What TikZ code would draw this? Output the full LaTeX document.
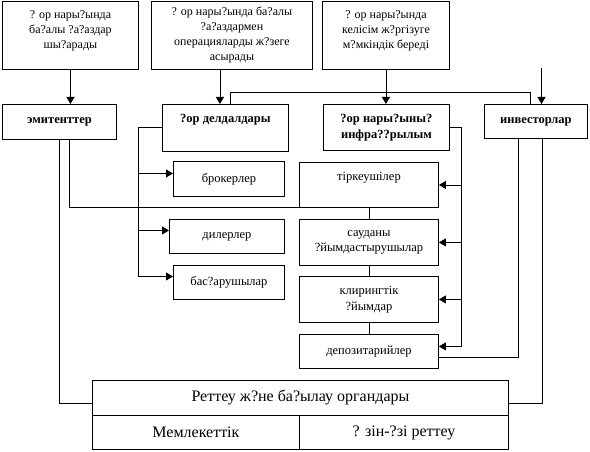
\documentclass[tikz,border=0pt]{standalone}
\usepackage{fontspec}
\setmainfont{Liberation Serif}
\usetikzlibrary{arrows.meta, calc}
\tikzset{box/.style={draw, anchor=north west, inner sep=0pt, align=center, font=\fontsize{12.5}{15.5}\selectfont},
topbox/.style={box, font=\fontsize{12}{15}\selectfont},
hdr/.style={box, font=\fontsize{12.5}{16}\selectfont\bfseries},
regbox/.style={box, font=\fontsize{16}{18}\selectfont},
flow/.style={-{Triangle[length=7pt, width=8pt]}}}

\begin{document}
\begin{tikzpicture}[x=1pt, y=-1pt, line width=0.9pt]
  \useasboundingbox (0,0) rectangle (590,452);
  % top row
  \node[topbox, minimum width=136pt, minimum height=68pt, text height=47pt, text depth=21pt] (issue) at (2,1) {? ор нары?ында\\ ба?алы ?а?аздар\\ шы?арады};
  \node[topbox, minimum width=161pt, minimum height=68pt] (oper) at (151,1) {? ор нары?ында ба?алы\\ ?а?аздармен\\ операцияларды ж?зеге\\ асырады};
  \node[topbox, minimum width=127pt, minimum height=68pt, text height=47pt, text depth=21pt] (deal) at (322,1) {? ор нары?ында\\ келісім ж?ргізуге\\ м?мкіндік береді};
  % participants
  \node[hdr, minimum width=114pt, minimum height=35pt] (emit) at (2,104) {эмитенттер};
  \node[hdr, minimum width=126pt, minimum height=47pt, text height=18pt, text depth=29pt] (dl) at (162,104) {?ор делдалдары};
  \node[hdr, minimum width=126pt, minimum height=46pt] (infra) at (323,104) {?ор нары?ыны?\\ инфра??рылым};
  \node[hdr, minimum width=103pt, minimum height=34pt] (inv) at (484,104) {инвесторлар};
  % intermediaries
  \node[box, minimum width=111pt, minimum height=35pt] (brok) at (173,161) {брокерлер};
  \node[box, minimum width=115pt, minimum height=34pt] (dil) at (169,219) {дилерлер};
  \node[box, minimum width=111pt, minimum height=34pt] (bas) at (173,265) {бас?арушылар};
  % infrastructure
  \node[box, minimum width=139pt, minimum height=45pt, text height=18pt, text depth=27pt] (tirk) at (299,162) {тіркеушілер};
  \node[box, minimum width=139pt, minimum height=46pt] (saud) at (299,219) {сауданы\\ ?йымдастырушылар};
  \node[box, minimum width=139pt, minimum height=46pt] (klir) at (299,276) {клирингтік\\ ?йымдар};
  \node[box, minimum width=139pt, minimum height=34pt] (dep) at (299,334) {депозитарийлер};
  % regulation
  \node[regbox, minimum width=416pt, minimum height=35pt] (reg) at (92,380) {Реттеу ж?не ба?ылау органдары};
  \node[regbox, minimum width=207pt, minimum height=34pt] (mem) at (92,415) {Мемлекеттік};
  \node[regbox, minimum width=209pt, minimum height=34pt] (ozin) at (299,415) {? зін-?зі реттеу};

  \coordinate (oper_out) at ([xshift=-12pt]oper.south);
  \coordinate (inv_in) at (541.5,68);
  \coordinate (bus) at ([xshift=-24pt]dl.west);
  \coordinate (rbus) at ([xshift=12pt]infra.east);
  \coordinate (p_brok) at ([yshift=5.5pt]brok.west);
  \coordinate (p_dil) at ([yshift=6pt]dil.west);
  \coordinate (p_bas) at ([yshift=6pt]bas.west);
  \coordinate (p_dep) at ([yshift=5pt]dep.east);

  \draw[flow] (issue.south) -- (issue.south |- emit.north);
  \draw[flow] (oper_out) -- (oper_out |- dl.north);
  \draw[flow] (deal.south) -- (deal.south |- infra.north);
  \draw[flow] (inv_in) -- (inv_in |- inv.north);
  \draw ([xshift=5pt]dl.north) -- ++(0,-12) -| ([xshift=-5.5pt]inv.north);

  \draw (dl.west) -- (bus) -- (bus |- p_bas);
  \foreach \p in {p_brok, p_dil, p_bas}
    \draw[flow] (bus |- \p) -- (\p);

  \draw (infra.east) -- (rbus) -- (rbus |- p_dep);
  \foreach \p in {tirk.east, saud.east, klir.east, p_dep}
    \draw[flow] (rbus |- \p) -- (\p);
  \draw (tirk.south) -- (saud.north);
  \draw (saud.south) -- (klir.north);
  \draw (klir.south) -- (dep.north);

  \draw ([xshift=10pt]emit.south) |- (tirk.south west);
  \draw (emit.south) |- ([yshift=-5pt]reg.west);
  \draw ([xshift=-17.5pt]inv.south) |- ([yshift=-6pt]dep.east);
  \draw ([xshift=6pt]inv.south) |- ([yshift=-5pt]reg.east);
\end{tikzpicture}
\end{document}
